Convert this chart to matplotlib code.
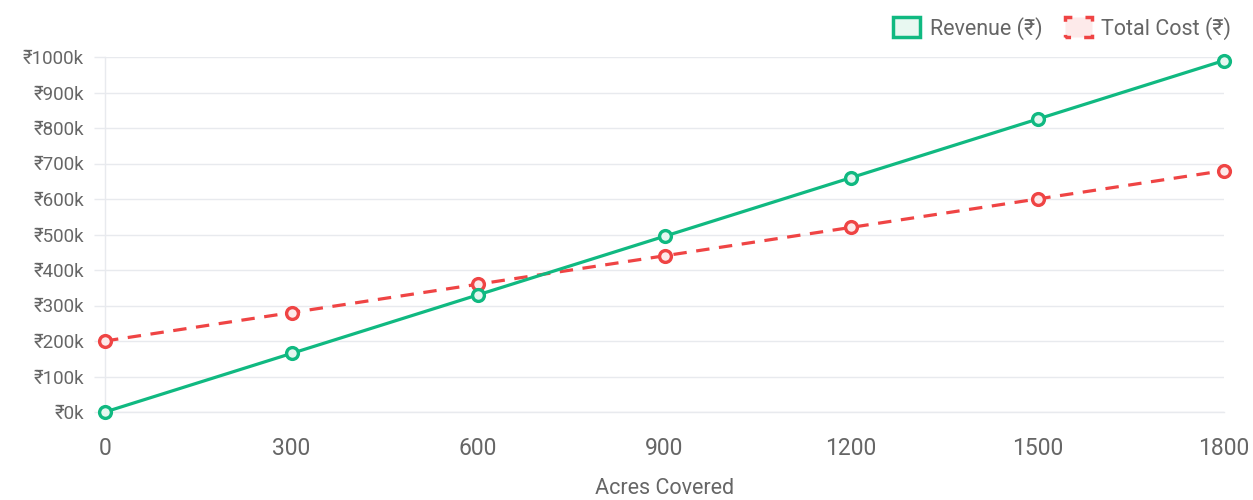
import matplotlib
matplotlib.use("Agg")
import matplotlib.pyplot as plt
from matplotlib.patches import Patch
from matplotlib.ticker import FuncFormatter, MultipleLocator

plt.rcParams['font.family'] = ['Roboto', 'Noto Sans', 'DejaVu Sans']

# Break-even data: acres covered vs revenue and total cost (in thousands of rupees)
acres = [0, 300, 600, 900, 1200, 1500, 1800]
revenue_k = [0, 165, 330, 495, 660, 825, 990]
total_cost_k = [200, 280, 360, 440, 520, 600, 680]
series_labels = ["Revenue (₹)", "Total Cost (₹)"]
x_title = "Acres Covered"

GREEN = "#10b981"
RED = "#ef4444"
GRID = "#e8eaee"
TEXT = "#666666"

fig = plt.figure(figsize=(12.53, 5.0), dpi=100)
ax = fig.add_axes([105 / 1253, 1 - 412 / 500, (1224 - 105) / 1253, (412 - 57) / 500])

ax.plot(acres, total_cost_k, color=RED, lw=2.3, dashes=(4.2, 3.0),
        marker='o', markersize=8.5, markeredgewidth=2.4,
        markerfacecolor="#fde9e9", markeredgecolor=RED, clip_on=False, zorder=3)
ax.plot(acres, revenue_k, color=GREEN, lw=2.3,
        marker='o', markersize=8.5, markeredgewidth=2.4,
        markerfacecolor="#e5f7f0", markeredgecolor=GREEN, clip_on=False, zorder=4)

ax.set_xlim(0, 1800)
ax.set_ylim(0, 1000)
ax.set_xticks(acres)
ax.yaxis.set_major_locator(MultipleLocator(100))
ax.yaxis.set_major_formatter(FuncFormatter(lambda v, p: f"₹{int(v)}k"))

ax.grid(axis='y', color=GRID, lw=1)
ax.set_axisbelow(True)
for side in ('top', 'right'):
    ax.spines[side].set_visible(False)
for side in ('left', 'bottom'):
    ax.spines[side].set_color(GRID)
    ax.spines[side].set_linewidth(1)

ax.tick_params(axis='y', length=8, width=1, color=GRID, pad=7, labelsize=13.5, labelcolor=TEXT)
ax.tick_params(axis='x', length=0, pad=18, labelsize=16.5, labelcolor=TEXT)

ax.set_xlabel(x_title, fontsize=15.5, color=TEXT, labelpad=13)

handles = [
    Patch(facecolor="#e8f8f1", edgecolor=GREEN, linewidth=2.5, label=series_labels[0]),
    Patch(facecolor="#fdeaea", edgecolor=RED, linewidth=2.5, linestyle=(1.6, (3.2, 3.78)),
          label=series_labels[1]),
]
fig.legend(handles=handles, loc='upper right', bbox_to_anchor=(1240 / 1253, 1 - 8 / 500),
           borderaxespad=0, ncol=2, frameon=False, fontsize=15.5, labelcolor=TEXT,
           handlelength=1.25, handleheight=1.0, handletextpad=0.45, columnspacing=1.05)

fig.savefig("out.png", dpi=100, facecolor="white")
